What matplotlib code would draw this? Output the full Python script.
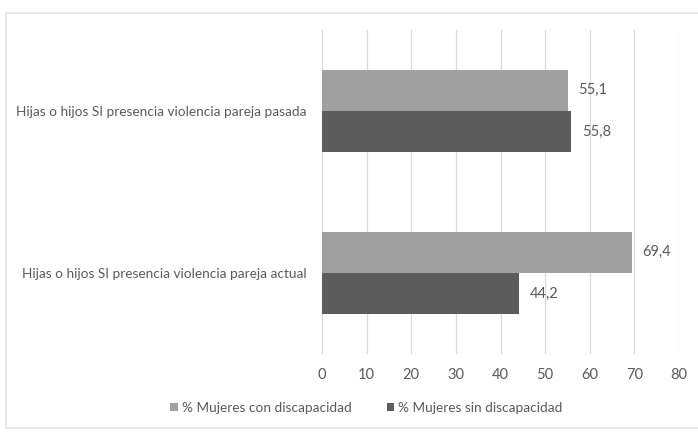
import matplotlib.pyplot as plt
from matplotlib.patches import Rectangle
import numpy as np

categories = ['Hijas o hijos SI presencia violencia pareja actual',
              'Hijas o hijos SI presencia violencia pareja pasada']
con_discapacidad = [69.4, 55.1]
sin_discapacidad = [44.2, 55.8]
series_names = ['% Mujeres con discapacidad', '% Mujeres sin discapacidad']
xticks = [0, 10, 20, 30, 40, 50, 60, 70, 80]

plt.rcParams['font.family'] = ['Lato', 'DejaVu Sans']
txt = '#595959'

fig = plt.figure(figsize=(6.98, 4.32), dpi=100)
ax = fig.add_axes([0.4613, 0.1806, 0.5115, 0.75])

# light frame round the chart
fig.patches.append(Rectangle((6 / 698, 1 - 428 / 432), 700 / 698, 415 / 432,
                             transform=fig.transFigure, fill=False,
                             edgecolor='#e4e4e4', linewidth=1.2))

y = np.arange(len(categories))
h = 0.255
b1 = ax.barh(y + h / 2, con_discapacidad, height=h, color='#a0a0a0',
             label=series_names[0], zorder=2)
b2 = ax.barh(y - h / 2, sin_discapacidad, height=h, color='#5c5c5c',
             label=series_names[1], zorder=2)

for bars in (b1, b2):
    for r in bars:
        w = r.get_width()
        ax.text(w + 2.4, r.get_y() + r.get_height() / 2,
                ('%.1f' % w).replace('.', ','), va='center', ha='left',
                fontsize=10.5, color=txt)

ax.set_xlim(0, 80)
ax.set_ylim(-0.5, 1.5)
ax.set_xticks(xticks)
ax.set_yticks(y)
ax.set_yticklabels(categories)
ax.grid(axis='x', color='#d9d9d9', linewidth=0.9, zorder=0)
ax.tick_params(axis='both', length=0, labelsize=9.8, colors=txt)
ax.tick_params(axis='x', labelsize=10.5, pad=10)
ax.tick_params(axis='y', pad=11)
for s in ax.spines.values():
    s.set_visible(False)

fig.legend(handles=[b1, b2], labels=series_names, loc='center',
           bbox_to_anchor=(0.525, 1 - 408 / 432), ncol=2, frameon=False,
           fontsize=9.8, labelcolor=txt, handlelength=0.55, handleheight=0.55,
           handletextpad=0.3, columnspacing=2.6)

plt.savefig('out.png', dpi=100)
